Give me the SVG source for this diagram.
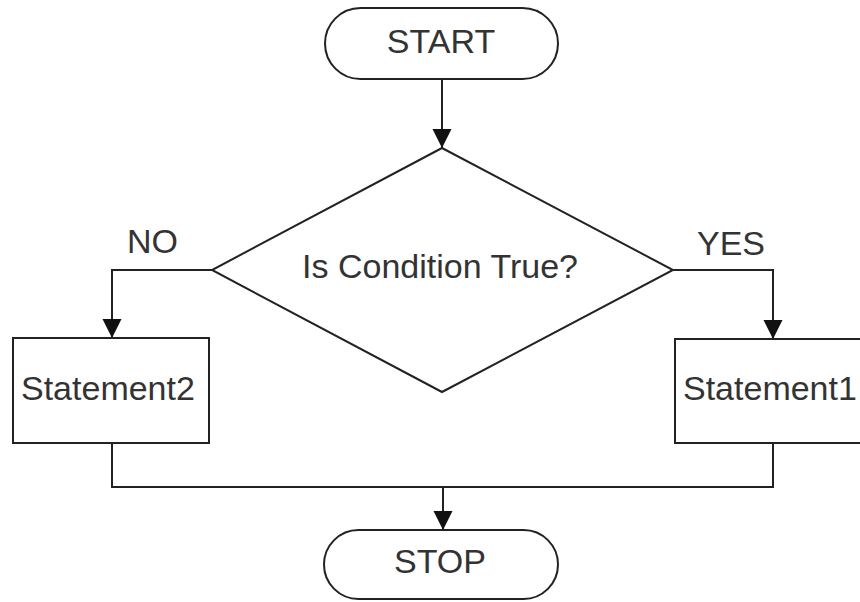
<svg xmlns="http://www.w3.org/2000/svg" width="860" height="602" viewBox="0 0 860 602">
  <defs>
    <marker id="arrow" markerUnits="userSpaceOnUse" markerWidth="20" markerHeight="20" refX="19" refY="9.5" orient="auto">
      <path d="M0,0 L19,9.5 L0,19 Z" fill="#111"/>
    </marker>
    <style>
      .shape { fill: #ffffff; stroke: #222; stroke-width: 2; }
      .wire { fill: none; stroke: #222; stroke-width: 2; }
      .label { font-family: "Liberation Sans", Arial, sans-serif; font-size: 34px; fill: #333; }
      .mid { text-anchor: middle; }
    </style>
  </defs>
  <rect width="860" height="602" fill="#ffffff"/>

  <g id="connectors">
    <path class="wire" d="M442,79 L442,148" marker-end="url(#arrow)"/>
    <path class="wire" d="M212,270 L112,270 L112,338" marker-end="url(#arrow)"/>
    <path class="wire" d="M673,270 L773,270 L773,339" marker-end="url(#arrow)"/>
    <path class="wire" d="M112,443 L112,487 L773,487 L773,443"/>
    <path class="wire" d="M443,487 L443,530" marker-end="url(#arrow)"/>
  </g>

  <g id="start">
    <rect class="shape" x="325" y="8" width="233" height="71" rx="35.5" ry="35.5"/>
    <text class="label mid" x="441" y="53">START</text>
  </g>

  <g id="decision">
    <polygon class="shape" points="442,148 673,270 442,392 212,270"/>
    <text class="label mid" x="440" y="278">Is Condition True?</text>
  </g>

  <g id="label-no">
    <text class="label" x="127" y="253">NO</text>
  </g>

  <g id="label-yes">
    <text class="label" x="697" y="255">YES</text>
  </g>

  <g id="statement2">
    <rect class="shape" x="13" y="338" width="196" height="105"/>
    <text class="label" x="21" y="400">Statement2</text>
  </g>

  <g id="statement1">
    <rect class="shape" x="675" y="339" width="200" height="104"/>
    <text class="label" x="683" y="400">Statement1</text>
  </g>

  <g id="stop">
    <rect class="shape" x="324" y="530" width="234" height="69" rx="34.5" ry="34.5"/>
    <text class="label mid" x="440" y="573">STOP</text>
  </g>
</svg>
